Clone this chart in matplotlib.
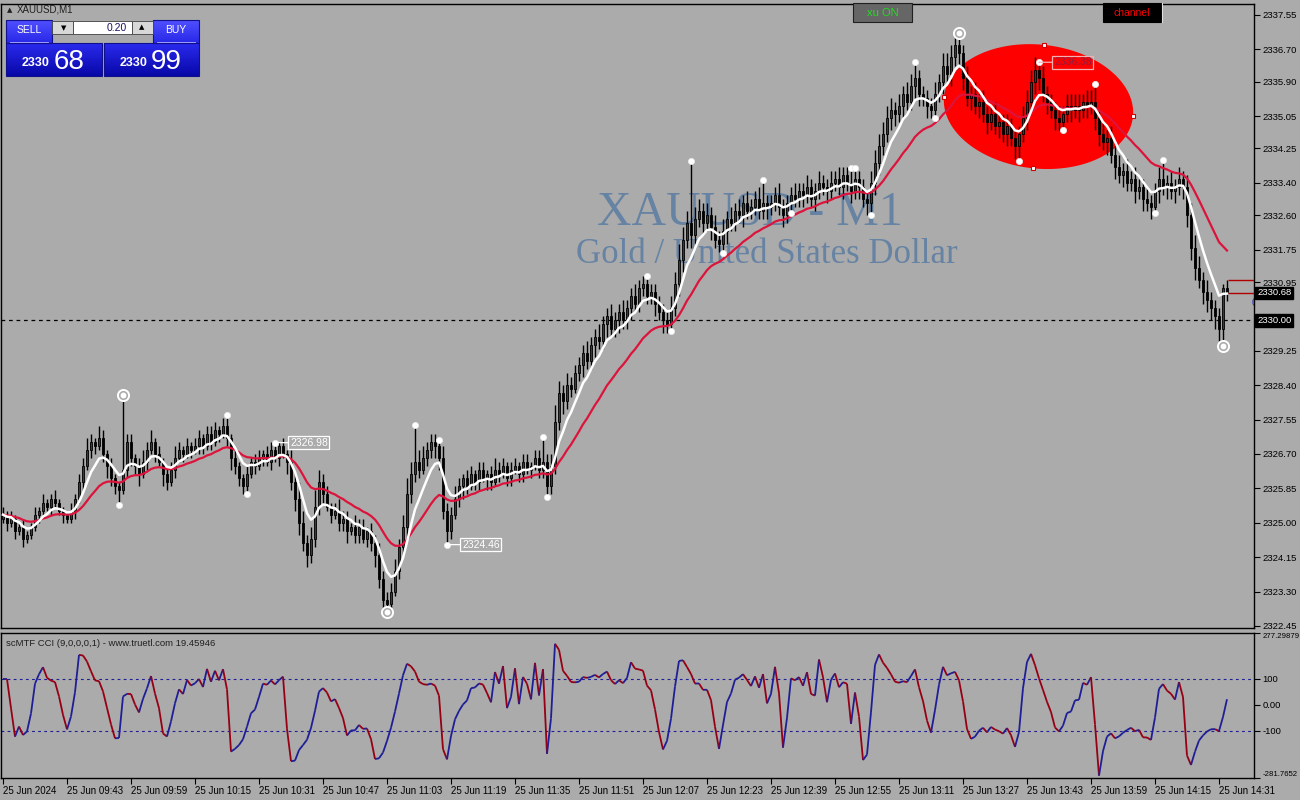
import numpy as np
import pandas as pd
import matplotlib
matplotlib.use("Agg")
import matplotlib.pyplot as plt
import matplotlib.colors as mcolors
import matplotlib.transforms as mtransforms
from matplotlib.patches import Rectangle, Polygon
from matplotlib.collections import LineCollection

# ---------------- data ----------------
symbol_title = "XAUUSD,M1"
first_open = 2325.1
closes = [
    2325.2, 2325.0, 2325.1, 2324.8, 2324.9, 2324.6, 2324.7, 2324.9, 2325.2, 2325.3, 2325.5, 2325.4, 2325.6, 2325.5, 2325.3, 2325.2,
    2325.1, 2325.3, 2325.6, 2326.0, 2326.4, 2326.8, 2327.0, 2326.9, 2327.1, 2326.7, 2326.4, 2326.1, 2325.9, 2325.8, 2326.3, 2327.0,
    2326.6, 2326.4, 2326.2, 2326.5, 2326.8, 2327.0, 2326.7, 2326.5, 2326.2, 2326.0, 2326.3, 2326.6, 2326.8, 2326.7, 2326.9, 2326.8,
    2326.9, 2327.1, 2326.9, 2327.2, 2327.0, 2327.3, 2327.2, 2327.4, 2327.1, 2326.6, 2326.4, 2326.1, 2325.9, 2326.2, 2326.5, 2326.4,
    2326.6, 2326.7, 2326.5, 2326.8, 2326.6, 2326.9, 2326.7, 2326.5, 2326.0, 2325.6, 2325.0, 2324.5, 2324.2, 2324.6, 2325.4, 2326.0,
    2325.7, 2325.4, 2325.2, 2325.3, 2325.0, 2325.1, 2324.8, 2324.9, 2324.7, 2324.9, 2324.6, 2324.8, 2324.5, 2324.2, 2323.6, 2323.1,
    2323.0, 2323.3, 2323.8, 2324.4, 2324.9, 2325.7, 2326.2, 2326.5, 2326.3, 2326.6, 2326.8, 2327.0, 2326.9, 2326.6, 2325.3, 2324.8,
    2325.2, 2325.6, 2325.9, 2326.1, 2325.9, 2326.2, 2326.0, 2326.3, 2326.1, 2326.2, 2326.0, 2326.3, 2326.2, 2326.4, 2326.1, 2326.3,
    2326.4, 2326.2, 2326.5, 2326.3, 2326.4, 2326.6, 2326.3, 2326.5, 2325.9, 2326.4, 2327.5, 2328.2, 2328.0, 2328.4, 2328.3, 2328.7,
    2328.9, 2329.2, 2329.0, 2329.4, 2329.6, 2329.5, 2329.9, 2330.1, 2329.8, 2330.0, 2330.2, 2330.0, 2330.3, 2330.6, 2330.4, 2330.8,
    2330.9, 2330.6, 2330.7, 2330.4, 2330.2, 2330.0, 2329.9, 2330.3, 2330.9, 2331.5, 2332.0, 2332.4, 2332.1, 2332.5, 2332.7, 2332.4,
    2332.6, 2332.3, 2332.0, 2331.9, 2332.2, 2332.5, 2332.4, 2332.7, 2332.6, 2332.9, 2332.7, 2332.8, 2333.0, 2332.7, 2332.9, 2332.8,
    2332.9, 2333.1, 2332.8, 2332.6, 2332.9, 2333.1, 2333.0, 2333.2, 2333.1, 2333.3, 2333.0, 2333.2, 2333.4, 2333.3, 2333.2, 2333.4,
    2333.5, 2333.3, 2333.6, 2333.4, 2333.2, 2333.5, 2333.3, 2333.0, 2332.9, 2333.4, 2333.9, 2334.3, 2334.6, 2335.0, 2335.2, 2335.1,
    2335.3, 2335.6, 2335.4, 2335.8, 2336.0, 2335.6, 2335.5, 2335.3, 2335.2, 2335.6, 2335.9, 2336.3, 2336.1, 2336.5, 2336.8, 2336.6,
    2336.0, 2335.5, 2335.6, 2335.3, 2335.4, 2335.1, 2334.9, 2335.1, 2334.8, 2334.9, 2334.6, 2334.8, 2334.5, 2334.3, 2334.6, 2335.0,
    2335.4, 2335.9, 2336.2, 2336.0, 2335.6, 2335.4, 2335.2, 2335.0, 2334.9, 2335.1, 2335.3, 2335.2, 2335.3, 2335.2, 2335.4, 2335.3,
    2335.4, 2335.0, 2334.6, 2334.4, 2334.5, 2334.1, 2333.8, 2333.6, 2333.7, 2333.4, 2333.5, 2333.2, 2333.3, 2333.0, 2332.9, 2332.8,
    2333.2, 2333.5, 2333.3, 2333.4, 2333.2, 2333.3, 2333.5, 2333.3, 2332.6, 2331.8, 2331.3, 2331.0, 2330.7, 2330.5, 2330.3, 2330.1,
    2329.8, 2330.8, 2330.68,
]
# wick lengths in tenths of a dollar
wick_up = [
    2, 1, 2, 1, 1, 2, 1, 1, 2, 1, 2, 1, 1, 2, 1, 1,
    1, 2, 1, 2, 2, 3, 2, 1, 3, 2, 1, 2, 1, 1, 19, 2,
    2, 1, 2, 3, 2, 3, 1, 2, 1, 2, 2, 3, 2, 1, 2, 1,
    2, 2, 1, 2, 2, 2, 1, 2, 3, 1, 2, 1, 1, 2, 1, 2,
    2, 1, 2, 2, 2, 1, 2, 1, 3, 2, 4, 3, 2, 3, 4, 3,
    2, 2, 1, 2, 3, 2, 2, 1, 3, 2, 2, 1, 2, 2, 3, 2,
    2, 2, 3, 2, 3, 4, 3, 9, 3, 3, 2, 2, 2, 2, 3, 2,
    2, 3, 2, 1, 2, 2, 1, 2, 2, 1, 2, 3, 2, 2, 1, 2,
    2, 1, 2, 2, 1, 2, 2, 6, 2, 3, 4, 3, 2, 3, 2, 2,
    2, 2, 3, 2, 2, 3, 2, 2, 3, 2, 2, 3, 2, 2, 3, 2,
    2, 2, 2, 2, 2, 2, 2, 3, 3, 4, 3, 3, 15, 3, 3, 2,
    3, 2, 3, 2, 3, 2, 3, 2, 3, 2, 3, 2, 2, 3, 6, 2,
    2, 2, 3, 2, 2, 2, 3, 2, 2, 3, 2, 2, 3, 2, 2, 3,
    2, 3, 2, 2, 4, 3, 2, 2, 2, 3, 3, 3, 3, 3, 3, 2,
    3, 2, 3, 3, 4, 2, 2, 2, 2, 3, 2, 3, 3, 3, 2, 3,
    2, 3, 2, 3, 2, 3, 2, 2, 3, 2, 2, 3, 2, 2, 2, 3,
    3, 3, 3, 2, 3, 2, 2, 2, 3, 2, 3, 3, 3, 3, 2, 3,
    3, 4, 2, 3, 2, 3, 2, 3, 2, 3, 2, 3, 2, 2, 3, 2,
    2, 3, 4, 2, 3, 2, 3, 2, 3, 3, 3, 3, 2, 3, 2, 2,
    2, 1, 2,
]
wick_dn = [
    1, 2, 1, 2, 1, 2, 1, 1, 1, 2, 1, 1, 2, 1, 1, 2,
    1, 1, 2, 1, 2, 1, 2, 2, 1, 2, 3, 2, 2, 3, 1, 2,
    2, 2, 3, 1, 2, 1, 2, 1, 3, 2, 1, 2, 1, 2, 1, 2,
    1, 2, 2, 1, 2, 1, 2, 1, 2, 3, 2, 2, 2, 2, 1, 2,
    1, 2, 1, 2, 1, 2, 1, 3, 2, 3, 3, 2, 3, 2, 2, 2,
    2, 1, 2, 1, 2, 2, 3, 1, 2, 2, 1, 2, 2, 3, 2, 3,
    2, 2, 1, 2, 2, 3, 2, 2, 2, 1, 2, 2, 3, 3, 2, 3,
    2, 1, 2, 3, 2, 1, 2, 2, 1, 3, 2, 1, 2, 1, 2, 2,
    1, 2, 2, 1, 2, 1, 2, 2, 3, 2, 2, 2, 3, 2, 2, 1,
    2, 3, 2, 2, 3, 2, 2, 3, 2, 2, 3, 2, 2, 3, 2, 2,
    2, 2, 2, 3, 2, 3, 2, 2, 2, 3, 3, 2, 3, 2, 2, 3,
    2, 3, 2, 2, 2, 3, 2, 2, 2, 3, 2, 2, 2, 2, 2, 3,
    2, 2, 2, 3, 2, 2, 2, 2, 3, 2, 2, 3, 2, 2, 3, 2,
    2, 2, 3, 2, 3, 2, 3, 2, 3, 3, 3, 3, 2, 2, 3, 3,
    2, 3, 2, 2, 3, 3, 2, 3, 2, 2, 2, 3, 2, 3, 2, 3,
    3, 2, 3, 2, 3, 2, 3, 2, 2, 3, 2, 3, 2, 3, 4, 2,
    3, 2, 3, 3, 2, 3, 2, 3, 2, 2, 2, 3, 2, 3, 2, 3,
    2, 3, 3, 2, 3, 2, 3, 2, 3, 2, 2, 3, 2, 3, 2, 3,
    2, 3, 2, 3, 2, 3, 2, 3, 3, 3, 3, 2, 3, 3, 3, 3,
    3, 4, 2,
]
time_labels = ["25 Jun 2024", "25 Jun 09:43", "25 Jun 09:59", "25 Jun 10:15", "25 Jun 10:31",
               "25 Jun 10:47", "25 Jun 11:03", "25 Jun 11:19", "25 Jun 11:35", "25 Jun 11:51",
               "25 Jun 12:07", "25 Jun 12:23", "25 Jun 12:39", "25 Jun 12:55", "25 Jun 13:11",
               "25 Jun 13:27", "25 Jun 13:43", "25 Jun 13:59", "25 Jun 14:15", "25 Jun 14:31"]
time_label_bars = [0, 16, 32, 48, 64, 80, 96, 112, 128, 144, 160, 176, 192, 208, 224, 240, 256, 272, 288, 304]
price_ticks = [2337.55, 2336.70, 2335.90, 2335.05, 2334.25, 2333.40, 2332.60, 2331.75, 2330.95,
               2329.25, 2328.40, 2327.55, 2326.70, 2325.85, 2325.00, 2324.15, 2323.30, 2322.45]
cci_min, cci_max = -281.7652, 277.29879
cci_levels = [100, -100]
dot_bars = [29, 56, 61, 103, 109, 135, 136, 161, 167, 172, 180, 190, 197, 212, 213, 217,
            228, 233, 254, 265, 273, 288, 290]
dot_prices = [2325.44, 2327.66, 2325.71, 2327.42, 2327.05, 2327.12, 2325.64, 2331.10, 2329.74,
              2333.94, 2331.67, 2333.47, 2332.66, 2333.77, 2333.77, 2332.61, 2336.39, 2335.00,
              2333.94, 2334.71, 2335.84, 2332.66, 2333.97]
ring_bars = [30, 96, 239, 305]
ring_prices = [2328.15, 2322.80, 2337.10, 2329.37]
label_bars = [68, 111, 259]
label_prices = [2326.98, 2324.46, 2336.38]
hline_price = 2330.00
bid_price = 2330.68
ask_price = 2330.99
ellipse_p1 = (235.25, 2335.52)
ellipse_p2 = (282.5, 2335.05)
ellipse_top = (260.25, 2336.81)

# ---------------- styling ----------------
BG = "#ABABAB"
plt.rcParams["font.family"] = ["Liberation Sans", "DejaVu Sans"]

W, H = 1300, 800
fig = plt.figure(figsize=(13, 8), dpi=100)
fig.patch.set_facecolor(BG)

def fx(px):
    return px / W

def fy(py):
    return 1 - py / H

ax = fig.add_axes([fx(1), fy(628), fx(1254) - fx(1), fy(4) - fy(628)])
axc = fig.add_axes([fx(1), fy(778), fx(1254) - fx(1), fy(633) - fy(778)])
for a in (ax, axc):
    a.set_facecolor(BG)
    for s in a.spines.values():
        s.set_color("black")
        s.set_linewidth(1.0)

o = np.array([first_open] + closes[:-1])
c = np.array(closes)
hi = np.maximum(o, c) + np.array(wick_up) * 0.1
lo = np.minimum(o, c) - np.array(wick_dn) * 0.1
idx = np.arange(len(c))

ax.set_xlim(-0.5, 312.75)
ax.set_ylim(2322.40, 2337.82)

# watermark
ax.text(0.598, 0.6458, "XAUUSD - M1", transform=ax.transAxes, ha="center", va="baseline",
        fontsize=34.5, family="Liberation Serif", color="#6783A3", zorder=0)
ax.text(0.611, 0.585, "Gold / United States Dollar", transform=ax.transAxes, ha="center",
        va="baseline", fontsize=25, family="Liberation Serif", color="#6783A3", zorder=0)

# ellipse
cxe = (ellipse_p1[0] + ellipse_p2[0]) / 2
cye = (ellipse_p1[1] + ellipse_p2[1]) / 2
av = (ellipse_p2[0] - cxe, ellipse_p2[1] - cye)
bv = (ellipse_top[0] - cxe, ellipse_top[1] - cye)
t = np.linspace(0, 2 * np.pi, 200)
ex = cxe + av[0] * np.cos(t) + bv[0] * np.sin(t)
ey = cye + av[1] * np.cos(t) + bv[1] * np.sin(t)
ax.add_patch(Polygon(np.column_stack([ex, ey]), closed=True, facecolor="#FF0000",
                     edgecolor="none", zorder=1))
hx = [cxe + av[0], cxe - av[0], cxe + bv[0], cxe - bv[0]]
hy = [cye + av[1], cye - av[1], cye + bv[1], cye - bv[1]]
ax.plot(hx, hy, ls="none", marker="s", ms=3.5, mfc="white", mec="#D00000", mew=0.8, zorder=7)

# dashed price line
ax.axhline(hline_price, color="black", lw=0.9, ls=(0, (3, 3)), zorder=2)

# candles
ax.vlines(idx, lo, hi, color="black", lw=1.0, zorder=3)
bull = c >= o
body_col = np.where(bull, "#3A3A3A", "#000000")
ax.bar(idx, np.maximum(np.abs(c - o), 0.03), bottom=np.minimum(o, c), width=0.62,
       color=body_col, edgecolor="black", linewidth=0.6, zorder=4)

# moving averages
cs = pd.Series(c)
white_ma = cs.ewm(span=7, adjust=False).mean()
red_ma = cs.ewm(span=21, adjust=False).mean()
ax.plot(idx, red_ma, color="#DC143C", lw=1.6, zorder=5)
ax.plot(idx, white_ma, color="white", lw=1.8, zorder=6)

# swing markers
ax.plot(dot_bars, dot_prices, ls="none", marker="o", ms=4.5, mfc="white", mec="#E8E8E8",
        mew=0.5, zorder=8)
ax.plot(ring_bars, ring_prices, ls="none", marker="o", ms=8, mfc=BG, mec="white", mew=1.4, zorder=8)
ax.plot(ring_bars, ring_prices, ls="none", marker="o", ms=3.2, mfc="white", mec="white", zorder=9)
ax.plot(label_bars, label_prices, ls="none", marker="o", ms=4.5, mfc="white", mec="#E8E8E8",
        mew=0.5, zorder=8)
for b, p in zip(label_bars, label_prices):
    inside = b > 240
    tc = "#9C1838" if inside else "white"
    ec = "#F2B0B0" if inside else "white"
    ax.annotate(f"{p:.2f}", xy=(b, p), xytext=(15, 0), textcoords="offset pixels",
                ha="left", va="center", fontsize=7.5, color=tc, zorder=9,
                bbox=dict(boxstyle="square,pad=0.15", fc="none", ec=ec, lw=0.9),
                arrowprops=dict(arrowstyle="-", color=ec, lw=0.9, shrinkA=0, shrinkB=0))

# bid / ask lines at the right edge
ax.hlines([ask_price, bid_price], idx[-1] + 0.25, 312.75, color="#B00000", lw=1.0, zorder=5)
ax.text(312.1, 2330.42, "0", color="#2030C0", fontsize=8, ha="left", va="center",
        clip_on=True, zorder=5)

# axes ticks main
ax.yaxis.tick_right()
ax.set_yticks(price_ticks)
ax.set_yticklabels([f"{v:.2f}" for v in price_ticks])
ax.tick_params(axis="y", direction="out", length=4, width=0.8, color="black",
               labelsize=6.8, pad=2, labelcolor="black")
ax.set_xticks([])

blend = mtransforms.blended_transform_factory(ax.transAxes, ax.transData)
for p in (bid_price, hline_price):
    ax.text(1.0025, p, f"{p:.2f}", transform=blend, ha="left", va="center", fontsize=6.8,
            color="white", zorder=10, clip_on=False,
            bbox=dict(boxstyle="square,pad=0.2", fc="black", ec="black"))

# CCI
tp = pd.Series((hi + lo + c) / 3)
sma = tp.rolling(9, min_periods=3).mean()
md = tp.rolling(9, min_periods=3).apply(lambda x: np.mean(np.abs(x - x.mean())), raw=True)
cci = ((tp - sma) / (0.015 * md)).fillna(100.0).clip(cci_min, cci_max).values
segs = [[(i - 1, cci[i - 1]), (i, cci[i])] for i in range(1, len(cci))]
cols = ["#1E1E96" if cci[i] >= cci[i - 1] else "#960014" for i in range(1, len(cci))]
axc.add_collection(LineCollection(segs, colors=cols, linewidths=1.3, zorder=3))
for lv in cci_levels:
    axc.axhline(lv, color="#1E1E96", lw=0.8, ls=(0, (2.5, 3)), zorder=2)
axc.set_xlim(-0.5, 312.75)
axc.set_ylim(cci_min, cci_max)
axc.yaxis.tick_right()
cci_ticks = [cci_max, 100, 0, -100, cci_min]
axc.set_yticks(cci_ticks)
axc.set_yticklabels(["277.29879", "100", "0.00", "-100", "-281.7652"])
axc.tick_params(axis="y", direction="out", length=4, width=0.8, labelsize=6.8, pad=2)
ylabs = axc.get_yticklabels()
ylabs[0].set_va("top")
ylabs[0].set_fontsize(5.6)
ylabs[-1].set_va("bottom")
ylabs[-1].set_fontsize(5.6)
axc.set_xticks(time_label_bars)
axc.set_xticklabels(time_labels, ha="left")
axc.tick_params(axis="x", direction="out", length=4, width=0.8, labelsize=7, pad=2)
last_cci = 19.45946
axc.text(0.004, 0.96, f"scMTF CCI (9,0,0,0,1) - www.truetl.com {last_cci:.5f}",
         transform=axc.transAxes, ha="left", va="top", fontsize=6.8, color="#202020")

# ---------------- overlay UI (pixel coords) ----------------
ov = fig.add_axes([0, 0, 1, 1], zorder=20)
ov.patch.set_alpha(0)
ov.axis("off")

def grad_rect(x0, y0, x1, y1, ctop, cbot, ec):
    g = np.linspace(0, 1, 40)[:, None, None]
    ct = np.array(mcolors.to_rgb(ctop))[None, None, :]
    cb = np.array(mcolors.to_rgb(cbot))[None, None, :]
    img = ct * (1 - g) + cb * g
    img = np.repeat(img, 2, axis=1)
    ov.imshow(img, extent=(x0, x1, y1, y0), aspect="auto", zorder=1, interpolation="bilinear")
    ov.add_patch(Rectangle((x0, y0), x1 - x0, y1 - y0, fill=False, ec=ec, lw=0.8, zorder=2))

ov.text(7, 10, "\u25B2", fontsize=5, ha="left", va="center", color="#202020", family="DejaVu Sans")
ov.text(17, 10, symbol_title, fontsize=7, ha="left", va="center", color="#202020")
grad_rect(6, 20, 52, 43, "#5050FF", "#2828E8", "#10108A")
grad_rect(153, 20, 199, 43, "#5050FF", "#2828E8", "#10108A")
ov.text(29, 30, "SELL", fontsize=7.5, color="white", ha="center", va="center")
ov.text(176, 30, "BUY", fontsize=7.5, color="white", ha="center", va="center")
ov.plot([10, 48], [41.5, 41.5], color="#B0B0FF", lw=0.6, zorder=3)
ov.plot([157, 195], [41.5, 41.5], color="#B0B0FF", lw=0.6, zorder=3)
ov.add_patch(Rectangle((52, 21), 21, 13, fc="#D8D8D8", ec="#404040", lw=0.6, zorder=2))
ov.add_patch(Rectangle((132, 21), 21, 13, fc="#D8D8D8", ec="#404040", lw=0.6, zorder=2))
ov.add_patch(Rectangle((73, 21), 59, 13, fc="white", ec="#404040", lw=0.6, zorder=2))
ov.text(64, 28, "\u25BC", fontsize=5, ha="center", va="center", color="black", family="DejaVu Sans", zorder=4)
ov.text(142, 27, "\u25B2", fontsize=5, ha="center", va="center", color="black", family="DejaVu Sans", zorder=4)
ov.text(127, 28, "0.20", fontsize=7.5, ha="right", va="center", color="#201060", zorder=4)
grad_rect(6, 43, 102, 76, "#2A2AEE", "#0808A8", "#10108A")
grad_rect(104, 43, 199, 76, "#2A2AEE", "#0808A8", "#10108A")
ov.text(50, 66, "2330", fontsize=9, weight="bold", color="white", ha="right", va="baseline", zorder=4)
ov.text(54, 69, "68", fontsize=20, color="white", ha="left", va="baseline", zorder=4)
ov.text(147, 66, "2330", fontsize=9, weight="bold", color="white", ha="right", va="baseline", zorder=4)
ov.text(151, 69, "99", fontsize=20, color="white", ha="left", va="baseline", zorder=4)

ov.add_patch(Rectangle((853, 3), 59, 19, fc="#666666", ec="#202020", lw=0.8, zorder=2))
ov.text(882.5, 13, "xu ON", fontsize=8, color="#22DD22", ha="center", va="center", zorder=3)
ov.add_patch(Rectangle((1103, 3), 58, 19, fc="#000000", ec="#000000", lw=0.8, zorder=2))
ov.plot([1161.5, 1161.5], [3, 22], color="#E0E0E0", lw=0.8, zorder=3)
ov.text(1132, 13, "channel", fontsize=7.5, color="#FF0000", ha="center", va="center", zorder=3)

ov.set_xlim(0, W)
ov.set_ylim(H, 0)

fig.savefig("out.png", dpi=100, facecolor=BG)
